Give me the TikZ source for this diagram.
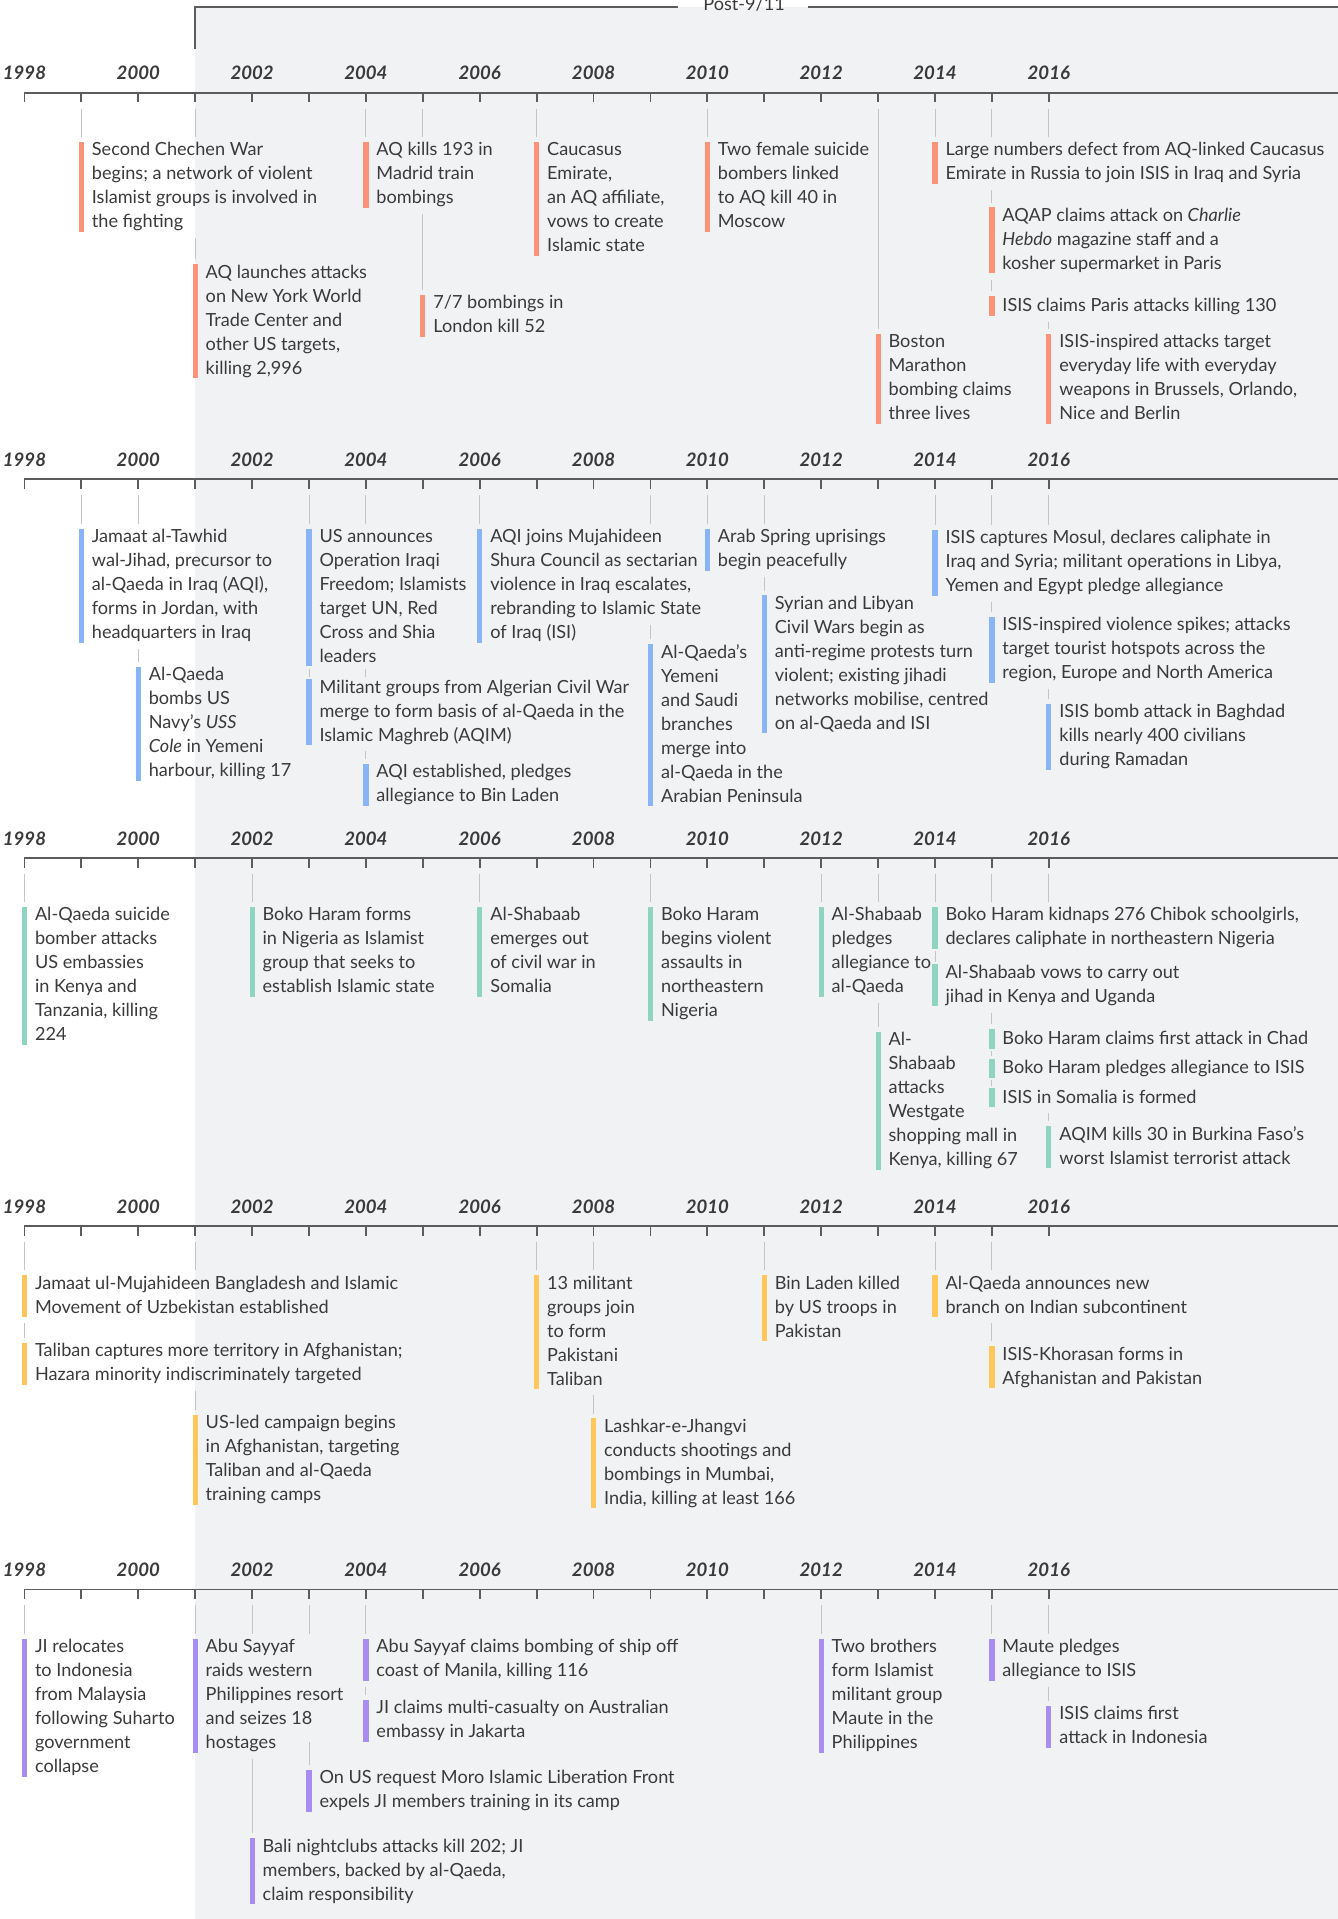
\documentclass[tikz,border=0pt]{standalone}
\usepackage{fontspec}
\setmainfont{Lato}
\usepackage{tikz}
\usetikzlibrary{calc}

\definecolor{bg}{HTML}{F1F2F4}
\definecolor{ink}{HTML}{3A3A3A}
\definecolor{axisgray}{HTML}{5C5C5C}
\definecolor{linegray}{HTML}{C4C4C4}
\definecolor{salmon}{HTML}{FA9378}
\definecolor{sky}{HTML}{8AB4F8}
\definecolor{mint}{HTML}{8FD4C1}
\definecolor{amber}{HTML}{FFC75A}
\definecolor{lilac}{HTML}{A98CF2}

\newcommand\evstrut{\rule[-1.5pt]{0pt}{7.5pt}}
\newcommand\yx[1]{20+46.5*(#1-1998)}

\begin{document}
\begin{tikzpicture}
    [x=0.5pt, y=-0.5pt,
    event/.style={align=left, inner sep=0pt, anchor=north west, text=ink,
        font={\fontsize{7.4pt}{9.8pt}\selectfont},
        execute at begin node=\evstrut, execute at end node=\evstrut},
    yearlabel/.style={anchor=base, text=ink, font={\fontsize{7.6pt}{9pt}\selectfont\bfseries\itshape}},
    posttext/.style={anchor=base, text=ink, font={\fontsize{7.4pt}{9.8pt}\selectfont}},
    axisline/.style={draw=axisgray, line width=0.75pt},
    link/.style={draw=linegray, line width=0.42pt, shorten <=2.5pt, shorten >=2pt},
    tight/.style={shorten <=1pt, shorten >=1pt},
    bar/.style={line width=2.1pt},]

    \useasboundingbox (0,0) rectangle (1093,1568);
    \fill[bg] (159.5,5.5) rectangle (1093,1568);

    %Post-9/11 bracket
    \node[posttext] (post) at (608,8.2) {Post-9/11};
    \draw[axisline] (159.5,40) |- ([xshift=-7pt]post.west |- 0,5.5);
    \draw[axisline] ([xshift=6pt]post.east |- 0,5.5) -- (1093,5.5);

    %Axes
    \foreach \ay [count=\r] in {75.7,391.5,701,1001.6,1298.7} {
        \draw[axisline] (20,\ay) -- (1093,\ay);
        \foreach \yr in {1998,...,2016}
            \draw[axisline] ({\yx{\yr}},\ay) -- ++(0,8) coordinate (t\r-\yr);
        \foreach \yr in {1998,2000,...,2016}
            \node[yearlabel] at ({\yx{\yr}},{\ay-10.4}) {\yr};
    }

    %Nodes, row 1
    \node[event] (r1a) at ({\yx{1999}+8.2},116) {Second Chechen War\\begins; a network of violent\\Islamist groups is involved in\\the fighting};
    \node[event] (r1b) at ({\yx{2001}+8.2},216) {AQ launches attacks\\on New York World\\Trade Center and\\other US targets,\\killing 2,996};
    \node[event] (r1c) at ({\yx{2004}+8.2},116) {AQ kills 193 in\\Madrid train\\bombings};
    \node[event] (r1d) at ({\yx{2005}+8.2},241) {7/7 bombings in\\London kill 52};
    \node[event] (r1e) at ({\yx{2007}+8.2},116) {Caucasus\\Emirate,\\an AQ affiliate,\\vows to create\\Islamic state};
    \node[event] (r1f) at ({\yx{2010}+8.2},116) {Two female suicide\\bombers linked\\to AQ kill 40 in\\Moscow};
    \node[event] (r1g) at ({\yx{2013}+8.2},273) {Boston\\Marathon\\bombing claims\\three lives};
    \node[event] (r1h) at ({\yx{2014}+8.2},116) {Large numbers defect from AQ-linked Caucasus\\Emirate in Russia to join ISIS in Iraq and Syria};
    \node[event] (r1i) at ({\yx{2015}+8.2},169.5) {AQAP claims attack on \textit{Charlie}\\\textit{Hebdo} magazine staff and a\\kosher supermarket in Paris};
    \node[event] (r1j) at ({\yx{2015}+8.2},242) {ISIS claims Paris attacks killing 130};
    \node[event] (r1k) at ({\yx{2016}+8.2},273) {ISIS-inspired attacks target\\everyday life with everyday\\weapons in Brussels, Orlando,\\Nice and Berlin};

    %Nodes, row 2
    \node[event] (r2a) at ({\yx{1999}+8.2},432) {Jamaat al-Tawhid\\wal-Jihad, precursor to\\al-Qaeda in Iraq (AQI),\\forms in Jordan, with\\headquarters in Iraq};
    \node[event] (r2b) at ({\yx{2000}+8.2},545) {Al-Qaeda\\bombs US\\Navy's \textit{USS}\\\textit{Cole} in Yemeni\\harbour, killing 17};
    \node[event] (r2c) at ({\yx{2003}+8.2},432) {US announces\\Operation Iraqi\\Freedom; Islamists\\target UN, Red\\Cross and Shia\\leaders};
    \node[event] (r2d) at ({\yx{2003}+8.2},555) {Militant groups from Algerian Civil War\\merge to form basis of al-Qaeda in the\\Islamic Maghreb (AQIM)};
    \node[event] (r2e) at ({\yx{2004}+8.2},624) {AQI established, pledges\\allegiance to Bin Laden};
    \node[event] (r2f) at ({\yx{2006}+8.2},432) {AQI joins Mujahideen\\Shura Council as sectarian\\violence in Iraq escalates,\\rebranding to Islamic State\\of Iraq (ISI)};
    \node[event] (r2g) at ({\yx{2009}+8.2},526) {Al-Qaeda's\\Yemeni\\and Saudi\\branches\\merge into\\al-Qaeda in the\\Arabian Peninsula};
    \node[event] (r2h) at ({\yx{2010}+8.2},432) {Arab Spring uprisings\\begin peacefully};
    \node[event] (r2i) at ({\yx{2011}+8.2},486.5) {Syrian and Libyan\\Civil Wars begin as\\anti-regime protests turn\\violent; existing jihadi\\networks mobilise, centred\\on al-Qaeda and ISI};
    \node[event] (r2j) at ({\yx{2014}+8.2},433) {ISIS captures Mosul, declares caliphate in\\Iraq and Syria; militant operations in Libya,\\Yemen and Egypt pledge allegiance};
    \node[event] (r2k) at ({\yx{2015}+8.2},504) {ISIS-inspired violence spikes; attacks\\target tourist hotspots across the\\region, Europe and North America};
    \node[event] (r2l) at ({\yx{2016}+8.2},575) {ISIS bomb attack in Baghdad\\kills nearly 400 civilians\\during Ramadan};

    %Nodes, row 3
    \node[event] (r3a) at ({\yx{1998}+8.2},741) {Al-Qaeda suicide\\bomber attacks\\US embassies\\in Kenya and\\Tanzania, killing\\224};
    \node[event] (r3b) at ({\yx{2002}+8.2},741) {Boko Haram forms\\in Nigeria as Islamist\\group that seeks to\\establish Islamic state};
    \node[event] (r3c) at ({\yx{2006}+8.2},741) {Al-Shabaab\\emerges out\\of civil war in\\Somalia};
    \node[event] (r3d) at ({\yx{2009}+8.2},741) {Boko Haram\\begins violent\\assaults in\\northeastern\\Nigeria};
    \node[event] (r3e) at ({\yx{2012}+8.2},741) {Al-Shabaab\\pledges\\allegiance to\\al-Qaeda};
    \node[event] (r3f) at ({\yx{2013}+8.2},843) {Al-\\Shabaab\\attacks\\Westgate\\shopping mall in\\Kenya, killing 67};
    \node[event] (r3g) at ({\yx{2014}+8.2},741) {Boko Haram kidnaps 276 Chibok schoolgirls,\\declares caliphate in northeastern Nigeria};
    \node[event] (r3h) at ({\yx{2014}+8.2},788) {Al-Shabaab vows to carry out\\jihad in Kenya and Uganda};
    \node[event] (r3i) at ({\yx{2015}+8.2},841) {Boko Haram claims first attack in Chad};
    \node[event] (r3j) at ({\yx{2015}+8.2},865) {Boko Haram pledges allegiance to ISIS};
    \node[event] (r3k) at ({\yx{2015}+8.2},889) {ISIS in Somalia is formed};
    \node[event] (r3l) at ({\yx{2016}+8.2},920) {AQIM kills 30 in Burkina Faso's\\worst Islamist terrorist attack};

    %Nodes, row 4
    \node[event] (r4a) at ({\yx{1998}+8.2},1042) {Jamaat ul-Mujahideen Bangladesh and Islamic\\Movement of Uzbekistan established};
    \node[event] (r4b) at ({\yx{1998}+8.2},1097) {Taliban captures more territory in Afghanistan;\\Hazara minority indiscriminately targeted};
    \node[event] (r4c) at ({\yx{2001}+8.2},1156) {US-led campaign begins\\in Afghanistan, targeting\\Taliban and al-Qaeda\\training camps};
    \node[event] (r4d) at ({\yx{2007}+8.2},1042) {13 militant\\groups join\\to form\\Pakistani\\Taliban};
    \node[event] (r4e) at ({\yx{2008}+8.2},1159) {Lashkar-e-Jhangvi\\conducts shootings and\\bombings in Mumbai,\\India, killing at least 166};
    \node[event] (r4f) at ({\yx{2011}+8.2},1042) {Bin Laden killed\\by US troops in\\Pakistan};
    \node[event] (r4g) at ({\yx{2014}+8.2},1042) {Al-Qaeda announces new\\branch on Indian subcontinent};
    \node[event] (r4h) at ({\yx{2015}+8.2},1100) {ISIS-Khorasan forms in\\Afghanistan and Pakistan};

    %Nodes, row 5
    \node[event] (r5a) at ({\yx{1998}+8.2},1339) {JI relocates\\to Indonesia\\from Malaysia\\following Suharto\\government\\collapse};
    \node[event] (r5b) at ({\yx{2001}+8.2},1339) {Abu Sayyaf\\raids western\\Philippines resort\\and seizes 18\\hostages};
    \node[event] (r5c) at ({\yx{2004}+8.2},1339) {Abu Sayyaf claims bombing of ship off\\coast of Manila, killing 116};
    \node[event] (r5d) at ({\yx{2004}+8.2},1389) {JI claims multi-casualty on Australian\\embassy in Jakarta};
    \node[event] (r5e) at ({\yx{2003}+8.2},1446) {On US request Moro Islamic Liberation Front\\expels JI members training in its camp};
    \node[event] (r5f) at ({\yx{2002}+8.2},1502) {Bali nightclubs attacks kill 202; JI\\members, backed by al-Qaeda,\\claim responsibility};
    \node[event] (r5g) at ({\yx{2012}+8.2},1339) {Two brothers\\form Islamist\\militant group\\Maute in the\\Philippines};
    \node[event] (r5h) at ({\yx{2015}+8.2},1339) {Maute pledges\\allegiance to ISIS};
    \node[event] (r5i) at ({\yx{2016}+8.2},1394) {ISIS claims first\\attack in Indonesia};

    %Bars
    \foreach \n in {r1a,r1b,r1c,r1d,r1e,r1f,r1g,r1h,r1i,r1j,r1k}
        \draw[bar, salmon] ([xshift=-4.1pt]\n.north west) -- ([xshift=-4.1pt]\n.south west);
    \foreach \n in {r2a,r2b,r2c,r2d,r2e,r2f,r2g,r2h,r2i,r2j,r2k,r2l}
        \draw[bar, sky] ([xshift=-4.1pt]\n.north west) -- ([xshift=-4.1pt]\n.south west);
    \foreach \n in {r3a,r3b,r3c,r3d,r3e,r3f,r3g,r3h,r3i,r3j,r3k,r3l}
        \draw[bar, mint] ([xshift=-4.1pt]\n.north west) -- ([xshift=-4.1pt]\n.south west);
    \foreach \n in {r4a,r4b,r4c,r4d,r4e,r4f,r4g,r4h}
        \draw[bar, amber] ([xshift=-4.1pt]\n.north west) -- ([xshift=-4.1pt]\n.south west);
    \foreach \n in {r5a,r5b,r5c,r5d,r5e,r5f,r5g,r5h,r5i}
        \draw[bar, lilac] ([xshift=-4.1pt]\n.north west) -- ([xshift=-4.1pt]\n.south west);

    %Lines from the axes
    \foreach \t/\n in {1-1999/r1a, 1-2001/r1a, 1-2004/r1c, 1-2005/r1c, 1-2007/r1e, 1-2010/r1f,
            1-2013/r1g, 1-2014/r1h, 1-2015/r1h, 1-2016/r1h,
            2-1999/r2a, 2-2000/r2a, 2-2003/r2c, 2-2004/r2c, 2-2006/r2f, 2-2009/r2f, 2-2010/r2h,
            2-2011/r2h, 2-2014/r2j, 2-2015/r2j, 2-2016/r2j,
            3-1998/r3a, 3-2002/r3b, 3-2006/r3c, 3-2009/r3d, 3-2012/r3e, 3-2013/r3e, 3-2014/r3g,
            3-2015/r3g, 3-2016/r3g,
            4-1998/r4a, 4-2001/r4a, 4-2007/r4d, 4-2008/r4d, 4-2011/r4f, 4-2014/r4g, 4-2015/r4g,
            5-1998/r5a, 5-2001/r5b, 5-2002/r5b, 5-2003/r5b, 5-2004/r5c, 5-2012/r5g, 5-2015/r5h,
            5-2016/r5h}
        \draw[link] (t\t) -- (t\t |- \n.north);

    %Lines between boxes
    \foreach \t/\a/\b in {1-2001/r1a/r1b, 1-2005/r1c/r1d, 1-2015/r1h/r1i, 1-2015/r1i/r1j, 1-2016/r1j/r1k,
            2-2000/r2a/r2b, 2-2004/r2d/r2e, 2-2011/r2h/r2i, 2-2015/r2j/r2k, 2-2016/r2k/r2l,
            3-2013/r3e/r3f, 3-2015/r3h/r3i, 3-2016/r3k/r3l,
            4-1998/r4a/r4b, 4-2001/r4b/r4c, 4-2008/r4d/r4e, 4-2015/r4g/r4h,
            5-2002/r5b/r5f, 5-2004/r5c/r5d, 5-2016/r5h/r5i}
        \draw[link] (t\t |- \a.south) -- (t\t |- \b.north);
    \foreach \t/\a/\b in {2-2003/r2c/r2d, 2-2004/r2c/r2d, 3-2014/r3g/r3h, 3-2015/r3i/r3j, 3-2015/r3j/r3k}
        \draw[link, tight] (t\t |- \a.south) -- (t\t |- \b.north);
    \draw[link] ([yshift=9.8pt]t2-2009 |- r2f.south) -- (t2-2009 |- r2g.north);
    \draw[link] ([yshift=7pt]t5-2003 |- r5b.south) -- (t5-2003 |- r5e.north);

\end{tikzpicture}
\end{document}
